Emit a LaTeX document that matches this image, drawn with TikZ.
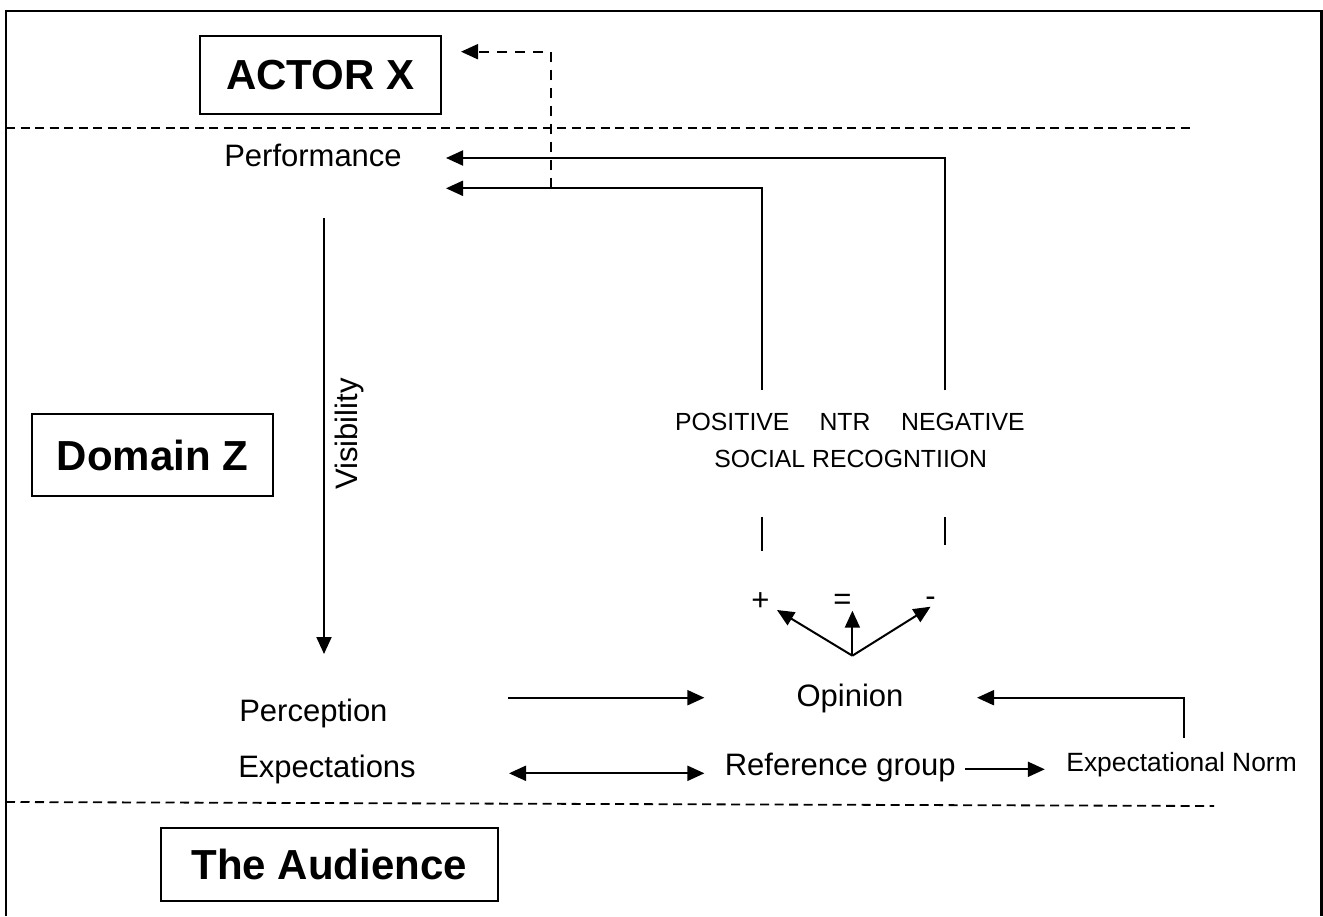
\documentclass[tikz,border=0pt]{standalone}
\usepackage{fontspec}
\setmainfont{Liberation Sans}
\usepackage{xcolor}
\usepackage{tikz}
\usetikzlibrary{shapes,arrows,arrows.meta,positioning}

\tikzset{
    thinline/.style={line width=1pt},
    sepline/.style={line width=0.9pt, dash pattern=on 4.5pt off 2.75pt},
    arrowline/.style={line width=1pt, -{Triangle[length=8.5pt,width=7.5pt]}},
    dblarrow/.style={line width=1pt, {Triangle[length=8.5pt,width=7.5pt]}-{Triangle[length=8.5pt,width=7.5pt]}},
    dasharrow/.style={line width=1pt, dash pattern=on 5pt off 4pt, -{Triangle[length=8.5pt,width=7.5pt]}},
    titlebox/.style={draw, line width=1pt, inner sep=0pt, font=\fontsize{21}{24}\selectfont\bfseries},
    textlabel/.style={anchor=base, inner sep=0pt, font=\fontsize{15.5}{18}\selectfont},
    smalllabel/.style={anchor=base, inner sep=0pt, font=\fontsize{12.4}{15}\selectfont}
}

\begin{document}
\begin{tikzpicture}[x=0.5pt, y=-0.5pt]
                \useasboundingbox (0,0) rectangle (1323,916);

                % frame, open at the bottom
                \draw[
                    line width=1.1pt
                    ] (6,916) -- (6,11) -- (1321.5,11) -- (1321.5,916);

                % separators
                \draw[sepline] (6,128) -- (1192,128);
                \draw[sepline] (6,802) -- (1214,806);

                % boxes
                \node[titlebox, minimum width=120.75pt, minimum height=39pt] (actor) at (320.3,75) {ACTOR X};
                \node[titlebox, minimum width=120.8pt, minimum height=41pt] (domain) at (152.5,455) {Domain Z};
                \node[titlebox, minimum width=168.5pt, minimum height=36.2pt] (audience) at (329.2,864.5) {The Audience};

                % labels
                \node[textlabel] (perf) at (313,166.7) {Performance};
                \node[textlabel, rotate=90, anchor=center] (vis) at (349,434) {Visibility};
                \node[textlabel] (percep) at (313.4,721) {Perception};
                \node[textlabel] (expect) at (327,777.3) {Expectations};
                \node[textlabel] (opinion) at (850,706.7) {Opinion};
                \node[textlabel] (refgroup) at (840.3,775) {Reference group};
                \node[textlabel, font=\fontsize{13.2}{16}\selectfont] (norm) at (1181.6,771.7) {Expectational Norm};

                \node[smalllabel] (pos) at (732.3,430) {POSITIVE};
                \node[smalllabel] (ntr) at (845,430) {NTR};
                \node[smalllabel] (neg) at (962.9,430) {NEGATIVE};
                \node[smalllabel] (socrec) at (850.7,467.3) {SOCIAL RECOGNTIION};
                \node[textlabel] (plus) at (760.5,610.5) {+};
                \node[textlabel] (equal) at (842.5,609) {=};
                \node[textlabel] (minus) at (930.5,606.5) {-};

                % connector ends
                \coordinate (perftipA) at (446,158);
                \coordinate (perftipB) at (446,188.3);
                \coordinate (negtop) at (945.4,390);
                \coordinate (postop) at (761.5,390);
                \coordinate (fbjoin) at (550.7,188.3);
                \coordinate (actortip) at (461,51.7);
                \coordinate (visstart) at (324,218);
                \coordinate (visend) at (324,654);
                \coordinate (poslowA) at (761.5,517.3);
                \coordinate (poslowB) at (761.5,550.7);
                \coordinate (neglowA) at (945.4,517.3);
                \coordinate (neglowB) at (945.4,545.3);
                \coordinate (fork) at (852.4,655.7);
                \coordinate (plustip) at (777,610);
                \coordinate (equaltip) at (852.4,610.7);
                \coordinate (minustip) at (930.6,606.7);
                \coordinate (percepout) at (508,697.7);
                \coordinate (opinionin) at (704.4,697.7);
                \coordinate (expectout) at (509,773.3);
                \coordinate (refin) at (704.4,773.3);
                \coordinate (refout) at (965.3,769.3);
                \coordinate (normin) at (1044.8,769.3);
                \coordinate (normtop) at (1184,737.7);
                \coordinate (opinionback) at (977,697.7);

                % feedback to the actor
                \draw[arrowline] (negtop) |- (perftipA);
                \draw[arrowline] (postop) |- (perftipB);
                \draw[dasharrow] (fbjoin) |- (actortip);

                % visibility
                \draw[arrowline] (visstart) -- (visend);

                % recognition ticks
                \draw[thinline] (poslowA) -- (poslowB);
                \draw[thinline] (neglowA) -- (neglowB);

                % opinion fork
                \draw[arrowline] (fork) -- (plustip);
                \draw[arrowline] (fork) -- (equaltip);
                \draw[arrowline] (fork) -- (minustip);

                % audience side
                \draw[arrowline] (percepout) -- (opinionin);
                \draw[dblarrow] (expectout) -- (refin);
                \draw[arrowline] (refout) -- (normin);
                \draw[arrowline] (normtop) |- (opinionback);

\end{tikzpicture}
\end{document}
